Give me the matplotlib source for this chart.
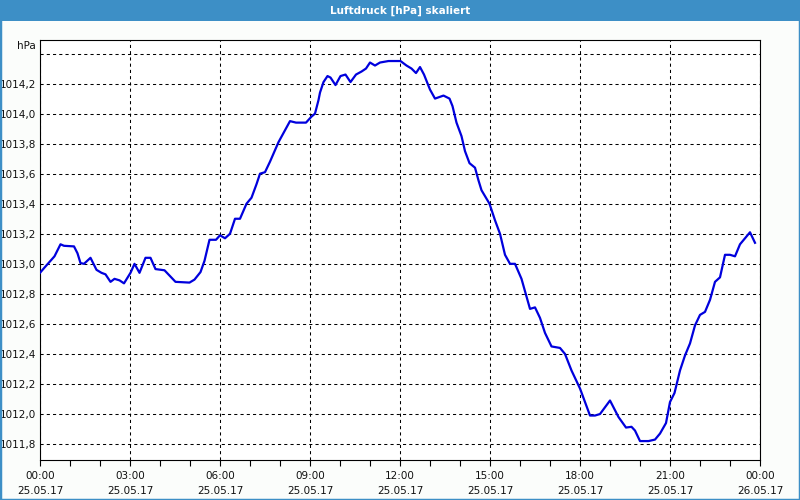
import matplotlib
matplotlib.use("Agg")
import matplotlib.pyplot as plt
import numpy as np
from matplotlib.patches import Rectangle

# minutes since 25.05.17 00:00 and pressure in hPa
minutes = [0, 9, 29, 41, 48, 68, 75, 81, 88, 101, 113, 123, 131, 141, 149, 159, 168,
           181, 189, 199, 211, 221, 231, 249, 271, 299, 309, 321, 329, 339, 352, 360,
           370, 380, 390, 400, 413, 423, 433, 440, 450, 460, 477, 490, 500, 512, 532,
           543, 550, 557, 560, 567, 575, 581, 591, 601, 611, 621, 632, 643, 652, 660,
           670, 680, 697, 713, 721, 733, 743, 752, 760, 768, 780, 790, 807, 819, 825,
           833, 843, 850, 859, 870, 877, 883, 899, 910, 920, 930, 940, 950, 963, 980,
           990, 1000, 1010, 1023, 1040, 1050, 1063, 1080, 1100, 1110, 1120, 1140, 1157,
           1172, 1183, 1190, 1200, 1217, 1230, 1240, 1252, 1260, 1269, 1280, 1290, 1300,
           1310, 1320, 1330, 1340, 1350, 1360, 1370, 1380, 1390, 1400, 1410, 1420, 1430]
pressure = [1012.94, 1012.975, 1013.05, 1013.13, 1013.12, 1013.116, 1013.07, 1013.005,
            1013.00, 1013.04, 1012.96, 1012.94, 1012.93, 1012.88, 1012.90, 1012.89,
            1012.87, 1012.94, 1013.00, 1012.94, 1013.04, 1013.04, 1012.965, 1012.957,
            1012.88, 1012.875, 1012.895, 1012.945, 1013.02, 1013.16, 1013.16, 1013.19,
            1013.17, 1013.20, 1013.30, 1013.30, 1013.40, 1013.44, 1013.53, 1013.60,
            1013.61, 1013.68, 1013.81, 1013.89, 1013.95, 1013.94, 1013.94, 1013.98,
            1014.00, 1014.09, 1014.14, 1014.21, 1014.25, 1014.24, 1014.19, 1014.25,
            1014.26, 1014.21, 1014.26, 1014.28, 1014.30, 1014.34, 1014.32, 1014.34,
            1014.35, 1014.35, 1014.35, 1014.32, 1014.30, 1014.27, 1014.31, 1014.26,
            1014.16, 1014.10, 1014.12, 1014.10, 1014.05, 1013.94, 1013.85, 1013.75,
            1013.67, 1013.64, 1013.555, 1013.49, 1013.40, 1013.29, 1013.20, 1013.06,
            1013.00, 1013.00, 1012.90, 1012.70, 1012.71, 1012.64, 1012.54, 1012.45,
            1012.44, 1012.40, 1012.29, 1012.17, 1011.99, 1011.99, 1012.00, 1012.09,
            1011.98, 1011.91, 1011.915, 1011.89, 1011.82, 1011.82, 1011.83, 1011.87,
            1011.94, 1012.08, 1012.14, 1012.29, 1012.39, 1012.47, 1012.59, 1012.66,
            1012.68, 1012.76, 1012.88, 1012.91, 1013.06, 1013.06, 1013.05, 1013.13,
            1013.17, 1013.21, 1013.14]

x_labels = ["00:00\n25.05.17", "03:00\n25.05.17", "06:00\n25.05.17", "09:00\n25.05.17",
            "12:00\n25.05.17", "15:00\n25.05.17", "18:00\n25.05.17", "21:00\n25.05.17",
            "00:00\n26.05.17"]
y_ticks = [1011.8, 1012.0, 1012.2, 1012.4, 1012.6, 1012.8, 1013.0, 1013.2, 1013.4,
           1013.6, 1013.8, 1014.0, 1014.2, 1014.4]

bg = "#fbfdfb"
frame = "#3d8fc6"

fig = plt.figure(figsize=(8, 5), dpi=100, facecolor=bg)

# title bar and window frame
fig.patches.append(Rectangle((0, 1 - 21 / 500), 1, 21 / 500, transform=fig.transFigure,
                             facecolor=frame, edgecolor="none"))
fig.patches.append(Rectangle((0, 0), 1, 1, transform=fig.transFigure,
                             facecolor="none", edgecolor=frame, linewidth=2.5))
fig.text(0.5, 1 - 10.5 / 500, "Luftdruck [hPa] skaliert", color="white",
         fontsize=7.5, fontweight="bold", ha="center", va="center")

ax = fig.add_axes([0.05, 0.08, 0.9, 0.84])
ax.set_facecolor("white")
hours = np.array(minutes) / 60.0
ax.plot(hours, pressure, color="#0000dd", linewidth=1.6, zorder=3)

ax.set_xlim(0, 24)
ax.set_ylim(1011.694, 1014.49)
ax.set_xticks(range(0, 25, 3))
ax.set_xticks(range(0, 25, 1), minor=True)
ax.set_xticklabels(x_labels, fontsize=7.5, color="#111111", linespacing=1.65)
ax.set_yticks(y_ticks)
ax.set_yticklabels([("%.1f" % v).replace(".", ",") if v < 1014.3 else "" for v in y_ticks],
                   fontsize=7.5, color="#111111")
ax.tick_params(axis="x", which="both", direction="out", length=4, width=0.8, pad=4)
ax.tick_params(axis="y", length=0, pad=3)

ax.grid(True, which="major", color="black", linestyle=(0, (3, 3)), linewidth=0.75)
for s in ax.spines.values():
    s.set_linewidth(0.8)
    s.set_color("black")

fig.text(36 / 800, 1 - 46 / 500, "hPa", fontsize=7.5, color="#111111",
         ha="right", va="center")

fig.savefig("out.png", dpi=100, facecolor=bg)
